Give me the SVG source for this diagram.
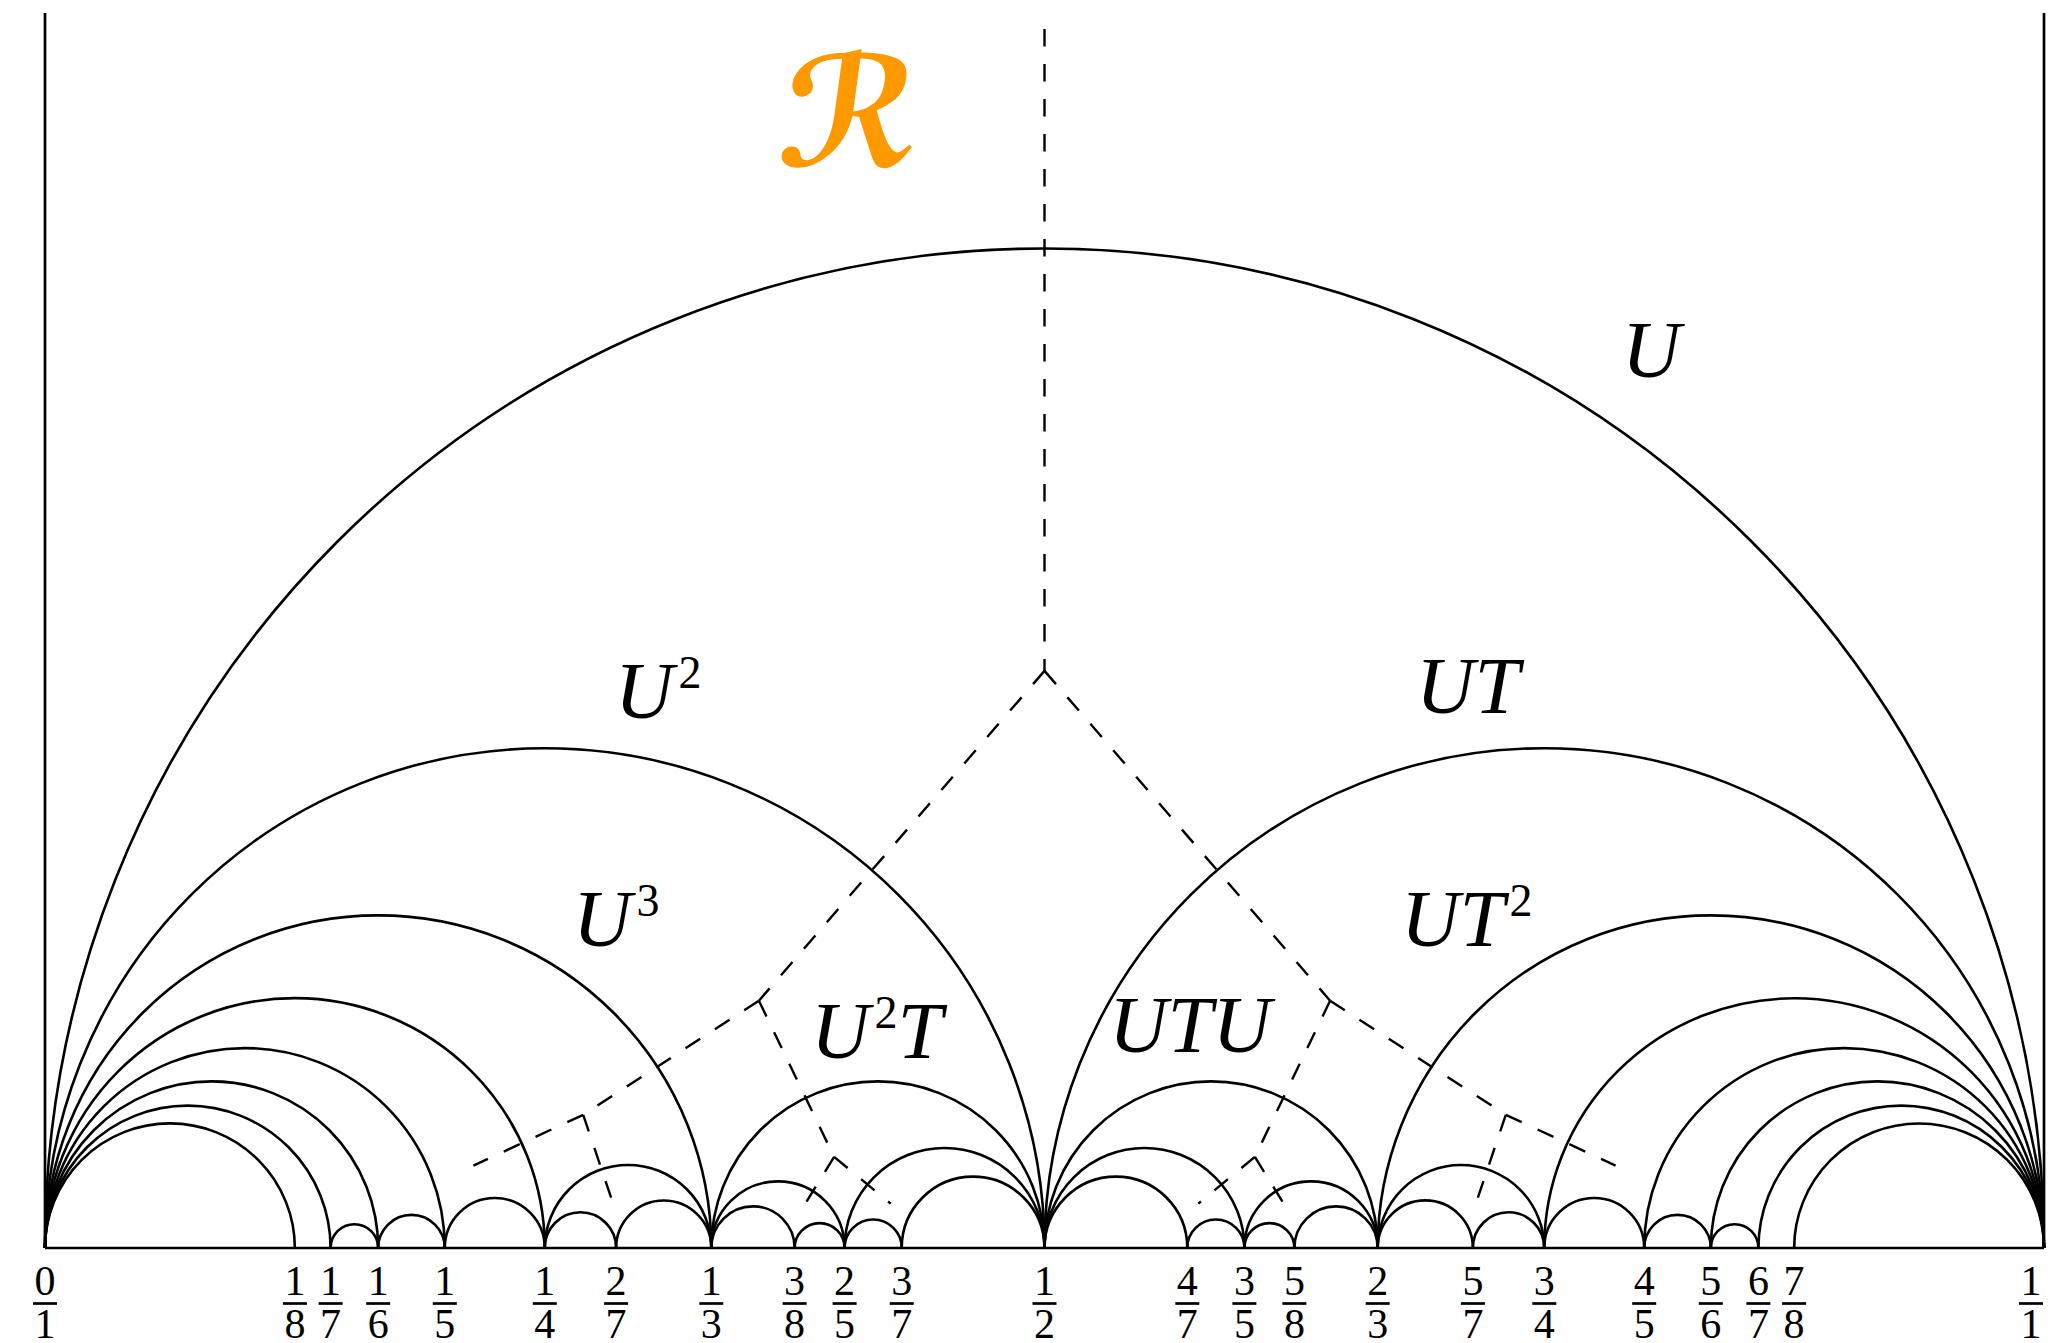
<svg xmlns="http://www.w3.org/2000/svg" width="2050" height="1343" viewBox="0 0 2050 1343">
<style>
.arc{fill:none;stroke:#000;stroke-width:2.6}
.axis{fill:none;stroke:#000;stroke-width:2.7}
.dash{fill:none;stroke:#000;stroke-width:2.4;stroke-dasharray:17.5 17.5}
.num{font-family:"Liberation Serif",serif;font-size:42px;text-anchor:middle;fill:#000}
.bar{stroke:#000;stroke-width:2.7}
.lab{font-family:"Liberation Serif",serif;font-style:italic;font-size:81px;fill:#000}
.sup{font-style:normal;font-size:46px}
.reg{font-family:"DejaVu Sans",sans-serif;font-weight:bold;font-size:148px;fill:#FF9900}
</style>
<rect width="2050" height="1343" fill="#fff"/>
<g id="frame">
<line class="axis" x1="45" y1="13" x2="45" y2="1248"/>
<line class="axis" x1="2044" y1="13" x2="2044" y2="1248"/>
<line class="axis" x1="45" y1="1248" x2="2044" y2="1248"/>
</g>
<g id="farey-arcs">
<path class="arc" d="M45 1248A999.5 999.5 0 0 1 2044 1248"/>
<path class="arc" d="M45 1248A499.75 499.75 0 0 1 1044.5 1248"/>
<path class="arc" d="M1044.5 1248A499.75 499.75 0 0 1 2044 1248"/>
<path class="arc" d="M45 1248A333.167 333.167 0 0 1 711.333 1248"/>
<path class="arc" d="M711.333 1248A166.583 166.583 0 0 1 1044.5 1248"/>
<path class="arc" d="M1044.5 1248A166.583 166.583 0 0 1 1377.667 1248"/>
<path class="arc" d="M1377.667 1248A333.167 333.167 0 0 1 2044 1248"/>
<path class="arc" d="M45 1248A249.875 249.875 0 0 1 544.75 1248"/>
<path class="arc" d="M544.75 1248A83.292 83.292 0 0 1 711.333 1248"/>
<path class="arc" d="M711.333 1248A66.633 66.633 0 0 1 844.6 1248"/>
<path class="arc" d="M844.6 1248A99.95 99.95 0 0 1 1044.5 1248"/>
<path class="arc" d="M1044.5 1248A99.95 99.95 0 0 1 1244.4 1248"/>
<path class="arc" d="M1244.4 1248A66.633 66.633 0 0 1 1377.667 1248"/>
<path class="arc" d="M1377.667 1248A83.292 83.292 0 0 1 1544.25 1248"/>
<path class="arc" d="M1544.25 1248A249.875 249.875 0 0 1 2044 1248"/>
<path class="arc" d="M45 1248A199.9 199.9 0 0 1 444.8 1248"/>
<path class="arc" d="M444.8 1248A49.975 49.975 0 0 1 544.75 1248"/>
<path class="arc" d="M544.75 1248A35.696 35.696 0 0 1 616.143 1248"/>
<path class="arc" d="M616.143 1248A47.595 47.595 0 0 1 711.333 1248"/>
<path class="arc" d="M711.333 1248A41.646 41.646 0 0 1 794.625 1248"/>
<path class="arc" d="M794.625 1248A24.988 24.988 0 0 1 844.6 1248"/>
<path class="arc" d="M844.6 1248A28.557 28.557 0 0 1 901.714 1248"/>
<path class="arc" d="M901.714 1248A71.393 71.393 0 0 1 1044.5 1248"/>
<path class="arc" d="M1044.5 1248A71.393 71.393 0 0 1 1187.286 1248"/>
<path class="arc" d="M1187.286 1248A28.557 28.557 0 0 1 1244.4 1248"/>
<path class="arc" d="M1244.4 1248A24.988 24.988 0 0 1 1294.375 1248"/>
<path class="arc" d="M1294.375 1248A41.646 41.646 0 0 1 1377.667 1248"/>
<path class="arc" d="M1377.667 1248A47.595 47.595 0 0 1 1472.857 1248"/>
<path class="arc" d="M1472.857 1248A35.696 35.696 0 0 1 1544.25 1248"/>
<path class="arc" d="M1544.25 1248A49.975 49.975 0 0 1 1644.2 1248"/>
<path class="arc" d="M1644.2 1248A199.9 199.9 0 0 1 2044 1248"/>
<path class="arc" d="M45 1248A166.583 166.583 0 0 1 378.167 1248"/>
<path class="arc" d="M378.167 1248A33.317 33.317 0 0 1 444.8 1248"/>
<path class="arc" d="M45 1248A142.786 142.786 0 0 1 330.571 1248"/>
<path class="arc" d="M330.571 1248A23.798 23.798 0 0 1 378.167 1248"/>
<path class="arc" d="M45 1248A124.938 124.938 0 0 1 294.875 1248"/>
<path class="arc" d="M1644.2 1248A33.317 33.317 0 0 1 1710.833 1248"/>
<path class="arc" d="M1710.833 1248A166.583 166.583 0 0 1 2044 1248"/>
<path class="arc" d="M1710.833 1248A23.798 23.798 0 0 1 1758.429 1248"/>
<path class="arc" d="M1758.429 1248A142.786 142.786 0 0 1 2044 1248"/>
<path class="arc" d="M1794.125 1248A124.938 124.938 0 0 1 2044 1248"/>
</g>
<g id="dual-tree">
<path class="dash" d="M1044.5 29L1044.5 670.9"/>
<path class="dash" d="M1044.5 670.9L758.9 1000.7"/>
<path class="dash" d="M1044.5 670.9L1330.1 1000.7"/>
<path class="dash" d="M758.9 1000.7L583.2 1114.8"/>
<path class="dash" d="M758.9 1000.7L834.1 1156.9"/>
<path class="dash" d="M1330.1 1000.7L1254.9 1156.9"/>
<path class="dash" d="M1330.1 1000.7L1505.8 1114.8"/>
<path class="dash" d="M583.2 1114.8L473.4 1165.6"/>
<path class="dash" d="M583.2 1114.8L612.3 1201.2"/>
<path class="dash" d="M834.1 1156.9L799.7 1212.7"/>
<path class="dash" d="M834.1 1156.9L890.7 1203.6"/>
<path class="dash" d="M1254.9 1156.9L1198.3 1203.6"/>
<path class="dash" d="M1254.9 1156.9L1289.3 1212.7"/>
<path class="dash" d="M1505.8 1114.8L1476.7 1201.2"/>
<path class="dash" d="M1505.8 1114.8L1615.6 1165.6"/>
</g>
<g id="region-labels">
<text class="reg" transform="translate(845 166) scale(1 1.03) skewX(-8)" x="0" y="0" text-anchor="middle">ℛ</text>
<text class="lab" x="1622" y="377">U</text>
<text class="lab" x="615" y="718">U<tspan class="sup" dx="5" dy="-30">2</tspan></text>
<text class="lab" x="1416" y="713">UT</text>
<text class="lab" x="573" y="946">U<tspan class="sup" dx="5" dy="-30">3</tspan></text>
<text class="lab" x="1401" y="946">UT<tspan class="sup" dx="5" dy="-30">2</tspan></text>
<text class="lab" x="811" y="1058">U<tspan class="sup" dx="5" dy="-30">2</tspan><tspan dy="30">T</tspan></text>
<text class="lab" x="1109" y="1052">UTU</text>
</g>
<g id="fraction-labels">
<g id="f0-1"><text class="num" x="45" y="1295">0</text><line class="bar" x1="33" y1="1303.5" x2="57" y2="1303.5"/><text class="num" x="45" y="1338">1</text></g>
<g id="f1-8"><text class="num" x="294.9" y="1295">1</text><line class="bar" x1="282.9" y1="1303.5" x2="306.9" y2="1303.5"/><text class="num" x="294.9" y="1338">8</text></g>
<g id="f1-7"><text class="num" x="330.6" y="1295">1</text><line class="bar" x1="318.6" y1="1303.5" x2="342.6" y2="1303.5"/><text class="num" x="330.6" y="1338">7</text></g>
<g id="f1-6"><text class="num" x="378.2" y="1295">1</text><line class="bar" x1="366.2" y1="1303.5" x2="390.2" y2="1303.5"/><text class="num" x="378.2" y="1338">6</text></g>
<g id="f1-5"><text class="num" x="444.8" y="1295">1</text><line class="bar" x1="432.8" y1="1303.5" x2="456.8" y2="1303.5"/><text class="num" x="444.8" y="1338">5</text></g>
<g id="f1-4"><text class="num" x="544.8" y="1295">1</text><line class="bar" x1="532.8" y1="1303.5" x2="556.8" y2="1303.5"/><text class="num" x="544.8" y="1338">4</text></g>
<g id="f2-7"><text class="num" x="616.1" y="1295">2</text><line class="bar" x1="604.1" y1="1303.5" x2="628.1" y2="1303.5"/><text class="num" x="616.1" y="1338">7</text></g>
<g id="f1-3"><text class="num" x="711.3" y="1295">1</text><line class="bar" x1="699.3" y1="1303.5" x2="723.3" y2="1303.5"/><text class="num" x="711.3" y="1338">3</text></g>
<g id="f3-8"><text class="num" x="794.6" y="1295">3</text><line class="bar" x1="782.6" y1="1303.5" x2="806.6" y2="1303.5"/><text class="num" x="794.6" y="1338">8</text></g>
<g id="f2-5"><text class="num" x="844.6" y="1295">2</text><line class="bar" x1="832.6" y1="1303.5" x2="856.6" y2="1303.5"/><text class="num" x="844.6" y="1338">5</text></g>
<g id="f3-7"><text class="num" x="901.7" y="1295">3</text><line class="bar" x1="889.7" y1="1303.5" x2="913.7" y2="1303.5"/><text class="num" x="901.7" y="1338">7</text></g>
<g id="f1-2"><text class="num" x="1044.5" y="1295">1</text><line class="bar" x1="1032.5" y1="1303.5" x2="1056.5" y2="1303.5"/><text class="num" x="1044.5" y="1338">2</text></g>
<g id="f4-7"><text class="num" x="1187.3" y="1295">4</text><line class="bar" x1="1175.3" y1="1303.5" x2="1199.3" y2="1303.5"/><text class="num" x="1187.3" y="1338">7</text></g>
<g id="f3-5"><text class="num" x="1244.4" y="1295">3</text><line class="bar" x1="1232.4" y1="1303.5" x2="1256.4" y2="1303.5"/><text class="num" x="1244.4" y="1338">5</text></g>
<g id="f5-8"><text class="num" x="1294.4" y="1295">5</text><line class="bar" x1="1282.4" y1="1303.5" x2="1306.4" y2="1303.5"/><text class="num" x="1294.4" y="1338">8</text></g>
<g id="f2-3"><text class="num" x="1377.7" y="1295">2</text><line class="bar" x1="1365.7" y1="1303.5" x2="1389.7" y2="1303.5"/><text class="num" x="1377.7" y="1338">3</text></g>
<g id="f5-7"><text class="num" x="1472.9" y="1295">5</text><line class="bar" x1="1460.9" y1="1303.5" x2="1484.9" y2="1303.5"/><text class="num" x="1472.9" y="1338">7</text></g>
<g id="f3-4"><text class="num" x="1544.3" y="1295">3</text><line class="bar" x1="1532.3" y1="1303.5" x2="1556.3" y2="1303.5"/><text class="num" x="1544.3" y="1338">4</text></g>
<g id="f4-5"><text class="num" x="1644.2" y="1295">4</text><line class="bar" x1="1632.2" y1="1303.5" x2="1656.2" y2="1303.5"/><text class="num" x="1644.2" y="1338">5</text></g>
<g id="f5-6"><text class="num" x="1710.8" y="1295">5</text><line class="bar" x1="1698.8" y1="1303.5" x2="1722.8" y2="1303.5"/><text class="num" x="1710.8" y="1338">6</text></g>
<g id="f6-7"><text class="num" x="1758.4" y="1295">6</text><line class="bar" x1="1746.4" y1="1303.5" x2="1770.4" y2="1303.5"/><text class="num" x="1758.4" y="1338">7</text></g>
<g id="f7-8"><text class="num" x="1794.1" y="1295">7</text><line class="bar" x1="1782.1" y1="1303.5" x2="1806.1" y2="1303.5"/><text class="num" x="1794.1" y="1338">8</text></g>
<g id="f1-1"><text class="num" x="2031" y="1295">1</text><line class="bar" x1="2019" y1="1303.5" x2="2043" y2="1303.5"/><text class="num" x="2031" y="1338">1</text></g>
</g>
</svg>
